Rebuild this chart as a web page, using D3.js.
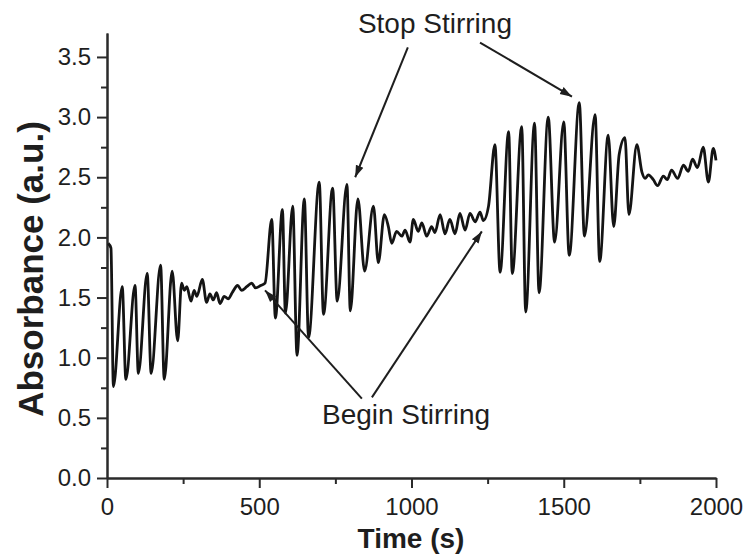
<!DOCTYPE html>
<html>
<head>
<meta charset="utf-8">
<script src="https://cdn.jsdelivr.net/npm/d3@7"></script>
<style>
  body { margin: 0; background: #fff; }
  text { font-family: "Liberation Sans", Arial, sans-serif; fill: #1e1e1e; }
</style>
</head>
<body>
<div class="chart"></div>
<script>
// time (s) and absorbance (a.u.)
var time = [4, 13, 21, 50, 62, 92, 103, 132, 145, 176, 188, 214, 232, 245, 254, 262, 276, 286, 295, 313,
    327, 338, 349, 360, 371, 385, 398, 411, 429, 442, 459, 475, 488, 505, 519,
    541, 553, 576, 586, 610, 624, 648, 662, 697, 711, 741, 756, 788, 799, 824, 846, 875, 891, 911,
    924, 935, 951, 968, 979, 995, 1006, 1022, 1034, 1050, 1066, 1077, 1094, 1110, 1126, 1143, 1159,
    1176, 1192, 1209, 1225, 1236, 1253,
    1274, 1291, 1319, 1331, 1362, 1375, 1404, 1419, 1449, 1470, 1500, 1518, 1551, 1568, 1603, 1618,
    1646, 1664, 1682, 1701, 1714, 1740, 1757, 1767, 1778, 1794, 1808, 1827, 1840, 1854, 1874, 1893,
    1909, 1923, 1939, 1958, 1975, 1991, 2000];
var absorbance = [1.95, 1.91, 0.76, 1.59, 0.82, 1.60, 0.87, 1.70, 0.87, 1.77, 0.82, 1.72, 1.14, 1.62, 1.56, 1.59, 1.47, 1.56, 1.51, 1.65,
    1.46, 1.53, 1.48, 1.54, 1.45, 1.51, 1.49, 1.54, 1.60, 1.56, 1.59, 1.62, 1.58, 1.60, 1.62,
    2.15, 1.33, 2.23, 1.37, 2.26, 1.02, 2.32, 1.17, 2.46, 1.36, 2.41, 1.47, 2.44, 1.39, 2.32, 1.72, 2.26, 1.79, 2.19,
    2.09, 1.95, 2.05, 2.01, 2.06, 1.96, 2.15, 2.05, 2.12, 2.01, 2.09, 2.04, 2.19, 2.03, 2.15, 2.03, 2.20,
    2.06, 2.20, 2.13, 2.21, 2.14, 2.26,
    2.77, 1.71, 2.88, 1.70, 2.92, 1.38, 2.95, 1.54, 3.00, 1.96, 2.96, 1.85, 3.12, 2.01, 3.02, 1.80,
    2.85, 2.09, 2.69, 2.83, 2.19, 2.77, 2.54, 2.49, 2.52, 2.48, 2.43, 2.51, 2.48, 2.56, 2.49, 2.60,
    2.55, 2.65, 2.58, 2.75, 2.46, 2.74, 2.64];

var xTicks = [0, 500, 1000, 1500, 2000];
var xMinor = [250, 750, 1250, 1750];
var yTicks = [0.0, 0.5, 1.0, 1.5, 2.0, 2.5, 3.0, 3.5];
var yMinor = [0.25, 0.75, 1.25, 1.75, 2.25, 2.75, 3.25];

// annotations: label and arrows (start -> tip) in data units
var stopLabel = { text: "Stop Stirring", t: 1077, a: 3.70 };
var beginLabel = { text: "Begin Stirring", t: 982, a: 0.45 };
var arrows = [
    { t0: 988, a0: 3.58, t1: 815, a1: 2.50 },
    { t0: 1225, a0: 3.62, t1: 1527, a1: 3.17 },
    { t0: 837, a0: 0.66, t1: 519, a1: 1.56 },
    { t0: 870, a0: 0.67, t1: 1231, a1: 2.05 }
];

var data = time.map(function (t, i) { return { t: t, a: absorbance[i] }; });

var width = 746, height = 554;

var svg = d3.select(".chart").append("svg")
    .attr("width", width)
    .attr("height", height);

// set the ranges
var x = d3.scaleLinear().domain([0, 2000]).range([107, 716]);
var y = d3.scaleLinear().domain([0, 3.7]).range([478, 478 - 3.7 * 120.3]);

// minor ticks first so the major axis draws over them
svg.append("g")
    .attr("class", "minor")
    .attr("transform", "translate(0,478)")
    .call(d3.axisBottom(x).tickValues(xMinor).tickSize(6).tickSizeOuter(0).tickFormat(""));
svg.append("g")
    .attr("class", "minor")
    .attr("transform", "translate(107,0)")
    .call(d3.axisLeft(y).tickValues(yMinor).tickSize(6).tickSizeOuter(0).tickFormat(""));

// the x axis
svg.append("g")
    .attr("class", "axis")
    .attr("transform", "translate(0,478)")
    .call(d3.axisBottom(x).tickValues(xTicks).tickSize(10).tickSizeOuter(0).tickPadding(10)
        .tickFormat(d3.format("d")));

// the y axis
svg.append("g")
    .attr("class", "axis")
    .attr("transform", "translate(107,0)")
    .call(d3.axisLeft(y).tickValues(yTicks).tickSize(10).tickSizeOuter(0).tickPadding(6)
        .tickFormat(d3.format(".1f")));

svg.selectAll(".axis path, .axis line, .minor path, .minor line")
    .attr("stroke", "#2a2a2a")
    .attr("stroke-width", 2);
svg.selectAll(".axis text")
    .style("font-size", "24px")
    .style("font-family", "'Liberation Sans', Arial, sans-serif")
    .attr("fill", "#1e1e1e");

// the trace
var line = d3.line()
    .x(function (d) { return x(d.t); })
    .y(function (d) { return y(d.a); })
    .curve(d3.curveMonotoneX);

svg.append("path")
    .datum(data)
    .attr("fill", "none")
    .attr("stroke", "#141414")
    .attr("stroke-width", 2.8)
    .attr("stroke-linejoin", "round")
    .attr("d", line);

// axis titles
svg.append("text")
    .attr("transform", "translate(43,269) rotate(-90)")
    .attr("text-anchor", "middle")
    .style("font-size", "35px")
    .style("font-weight", "bold")
    .text("Absorbance (a.u.)");

svg.append("text")
    .attr("x", 411)
    .attr("y", 548)
    .attr("text-anchor", "middle")
    .style("font-size", "28px")
    .style("font-weight", "bold")
    .text("Time (s)");

// arrows
svg.append("defs").append("marker")
    .attr("id", "head")
    .attr("markerUnits", "userSpaceOnUse")
    .attr("viewBox", "0 -5 12 10")
    .attr("refX", 12)
    .attr("refY", 0)
    .attr("markerWidth", 12)
    .attr("markerHeight", 10)
    .attr("orient", "auto")
    .append("path")
    .attr("d", "M0,-4L12,0L0,4Z")
    .attr("fill", "#1e1e1e");

svg.selectAll(".arrow")
    .data(arrows)
    .enter().append("line")
    .attr("class", "arrow")
    .attr("x1", function (d) { return x(d.t0); })
    .attr("y1", function (d) { return y(d.a0); })
    .attr("x2", function (d) { return x(d.t1); })
    .attr("y2", function (d) { return y(d.a1); })
    .attr("stroke", "#1e1e1e")
    .attr("stroke-width", 2)
    .attr("marker-end", "url(#head)");

svg.selectAll(".note")
    .data([stopLabel, beginLabel])
    .enter().append("text")
    .attr("class", "note")
    .attr("x", function (d) { return x(d.t); })
    .attr("y", function (d) { return y(d.a); })
    .attr("text-anchor", "middle")
    .style("font-size", "28px")
    .text(function (d) { return d.text; });
</script>
</body>
</html>
